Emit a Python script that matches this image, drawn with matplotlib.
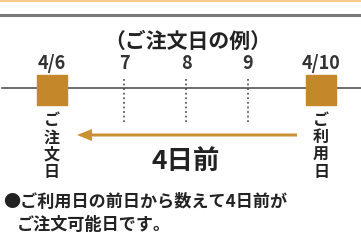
import matplotlib.pyplot as plt
from matplotlib.patches import Rectangle, FancyArrow

plt.rcParams['font.family'] = ['Noto Sans CJK JP', 'DejaVu Sans']

# data
title = '（ご注文日の例）'
day_labels = ['4/6', '7', '8', '9', '4/10']
order_label = 'ご注文日'
use_label = 'ご利用日'
lead_text = '4日前'
note_lines = ['●ご利用日の前日から数えて4日前が', 'ご注文可能日です。']

# layout (pixels)
day_x = [52, 124, 186, 248, 321]
gold = '#c4872a'

fig = plt.figure(figsize=(3.61, 2.49), dpi=100)
ax = fig.add_axes([0, 0, 1, 1])
ax.set_xlim(0, 361)
ax.set_ylim(249, 0)
ax.axis('off')

# top rules
ax.plot([0, 361], [0.8, 0.8], color='#f6c98c', lw=1.5)
ax.plot([0, 361], [14.5, 14.5], color='#7a7a7a', lw=2.2)

ax.text(188, 41, title, ha='center', va='center', fontsize=15,
        fontweight='bold', color='#222222')

# timeline
ax.plot([2, 361], [88, 88], color='#555555', lw=1.2, zorder=1)
for x, lab in zip(day_x, day_labels):
    ax.text(x, 63, lab, ha='center', va='center', fontsize=13,
            fontweight='bold', color='#333333')
for x in day_x[1:-1]:
    ax.plot([x, x], [79, 122], color='#444444', lw=1.1, ls=(0, (1.2, 1.8)),
            zorder=1)
for x in (day_x[0], day_x[-1]):
    ax.add_patch(Rectangle((x - 15, 75), 30, 30, color=gold, zorder=2))

for x, lab in ((day_x[0], order_label), (day_x[-1], use_label)):
    ax.text(x, 146, '\n'.join(lab), ha='center', va='center',
            fontsize=11.5, fontweight='bold', color='#222222',
            linespacing=1.1)

# arrow
ax.add_patch(FancyArrow(297, 135, -205, 0, width=3, head_width=12,
                        head_length=15, color='#c99132', lw=0))
ax.text(186, 161, lead_text, ha='center', va='center', fontsize=19,
        fontweight='bold', color='#222222')

# note
ax.text(3, 202, note_lines[0], ha='left', va='center', fontsize=12.3,
        fontweight='bold', color='#222222')
ax.text(17, 225, note_lines[1], ha='left', va='center', fontsize=12.3,
        fontweight='bold', color='#222222')

fig.savefig('out.png', dpi=100)
